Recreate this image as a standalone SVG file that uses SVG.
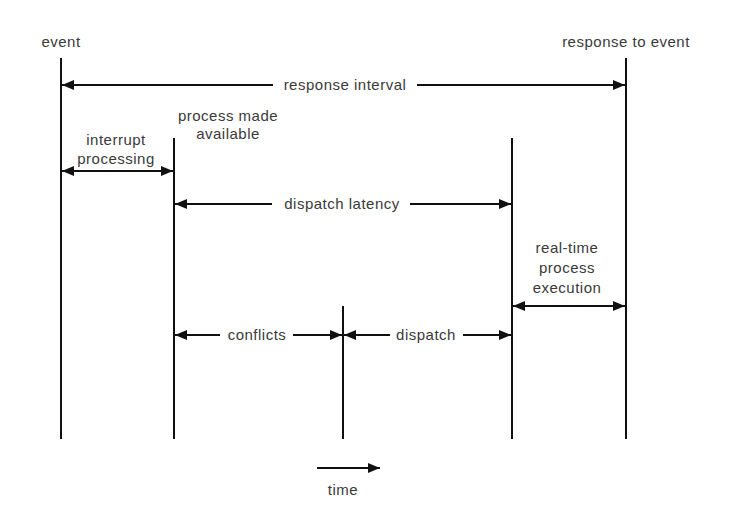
<svg xmlns="http://www.w3.org/2000/svg" width="734" height="524" viewBox="0 0 734 524">
<style>
.t{font-family:"Liberation Sans",Arial,sans-serif;font-size:15px;letter-spacing:0.5px;fill:#3a3a3a;text-anchor:middle}
.v{stroke:#111;stroke-width:2;fill:none}
.a{stroke:#111;stroke-width:2;fill:none;marker-end:url(#ah)}
</style>
<defs>
<marker id="ah" viewBox="0 0 12 10" refX="12" refY="5" markerWidth="12" markerHeight="10" markerUnits="userSpaceOnUse" orient="auto">
<path d="M0,0 L12,5 L0,10 z" fill="#111"/>
</marker>
</defs>
<rect width="734" height="524" fill="#fff"/>
<g id="tl-event"><line class="v" x1="61" y1="58" x2="61" y2="439"/><text class="t" x="61" y="47">event</text></g>
<g id="tl-available"><line class="v" x1="174" y1="138" x2="174" y2="439"/><text class="t" x="228" y="121">process made</text><text class="t" x="228" y="139">available</text></g>
<g id="tl-conflicts"><line class="v" x1="343" y1="306" x2="343" y2="439"/></g>
<g id="tl-dispatch"><line class="v" x1="512" y1="138" x2="512" y2="439"/></g>
<g id="tl-response"><line class="v" x1="626" y1="58" x2="626" y2="439"/><text class="t" x="626" y="47">response to event</text></g>
<g id="connectors">
<line class="a" x1="273" y1="85" x2="62" y2="85"/>
<line class="a" x1="417" y1="85" x2="625" y2="85"/>
<line class="a" x1="118" y1="171" x2="62" y2="171"/>
<line class="a" x1="118" y1="171" x2="173" y2="171"/>
<line class="a" x1="272" y1="204" x2="175" y2="204"/>
<line class="a" x1="410" y1="204" x2="511" y2="204"/>
<line class="a" x1="569" y1="306" x2="513" y2="306"/>
<line class="a" x1="569" y1="306" x2="625" y2="306"/>
<line class="a" x1="220" y1="335" x2="175" y2="335"/>
<line class="a" x1="293" y1="335" x2="342" y2="335"/>
<line class="a" x1="390" y1="335" x2="344" y2="335"/>
<line class="a" x1="463" y1="335" x2="511" y2="335"/>
<line class="a" x1="317" y1="468" x2="380" y2="468"/>
</g>
<g id="labels">
<text class="t" x="345" y="90">response interval</text>
<text class="t" x="116" y="145">interrupt</text>
<text class="t" x="116" y="164">processing</text>
<text class="t" x="342" y="209">dispatch latency</text>
<text class="t" x="567" y="253">real-time</text>
<text class="t" x="567" y="273">process</text>
<text class="t" x="567" y="293">execution</text>
<text class="t" x="257" y="340">conflicts</text>
<text class="t" x="426" y="340">dispatch</text>
<text class="t" x="343" y="495">time</text>
</g>
</svg>
